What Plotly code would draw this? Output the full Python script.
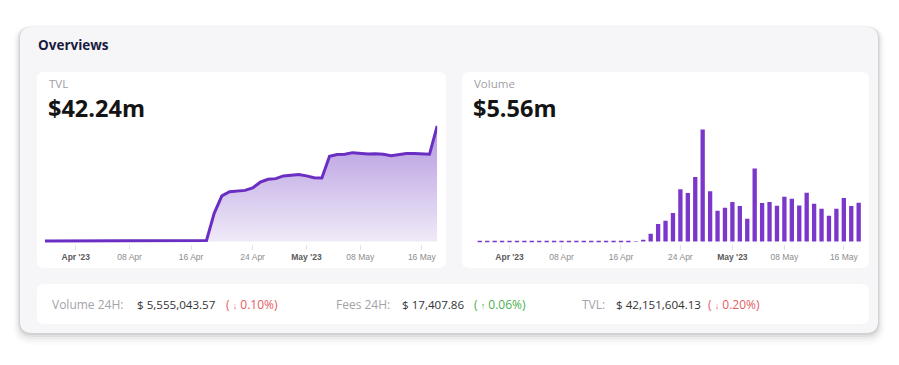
import plotly.graph_objects as go
import pandas as pd

W, H = 899, 365

# ---------------- data ----------------
dates = pd.date_range("2023-03-28", "2023-05-18", freq="D")

tvl_m = [0.15, 0.15, 0.16, 0.16, 0.17, 0.17, 0.18, 0.18, 0.19, 0.20, 0.20,
         0.21, 0.22, 0.22, 0.23, 0.24, 0.25, 0.26, 0.28, 0.30, 0.33, 0.37,
         10.3, 16.7, 18.2, 18.35, 18.7, 19.6, 21.7, 22.75, 23.0, 24.0, 24.2, 24.5,
         24.0, 23.3, 23.2, 31.2, 31.8, 31.9, 32.5, 32.2, 32.0, 32.1, 31.9, 31.4,
         31.7, 32.2, 32.2, 32.1, 31.9, 42.24]

volume_m = [0, 0, 0, 0, 0, 0, 0, 0, 0, 0, 0, 0, 0, 0, 0, 0, 0, 0, 0, 0, 0,
            0.07, 0.24, 1.10, 2.49, 2.97, 4.07, 7.47, 6.94, 9.24, 16.04, 7.18,
            4.41, 4.84, 5.64, 5.07, 3.26, 10.44, 5.50, 5.64, 5.13, 6.42, 6.13,
            5.17, 6.99, 5.41, 4.70, 3.69, 4.70, 6.22, 5.07, 5.56]

tick_dates = ["2023-04-01", "2023-04-08", "2023-04-16", "2023-04-24",
              "2023-05-01", "2023-05-08", "2023-05-16"]
tick_labels = ["Apr '23", "08 Apr", "16 Apr", "24 Apr", "May '23", "08 May", "16 May"]
month_ticks = {"Apr '23", "May '23"}

title = "Overviews"
tvl_label, tvl_value = "TVL", "$42.24m"
vol_label, vol_value = "Volume", "$5.56m"

stats = [
    ("Volume 24H:", "$ 5,555,043.57", "↓", "0.10%", "#e35d64"),
    ("Fees 24H:", "$ 17,407.86", "↑", "0.06%", "#4caf50"),
    ("TVL:", "$ 42,151,604.13", "↓", "0.20%", "#e35d64"),
]

# ---------------- helpers ----------------
def fx(x):
    return x / W

def fy(y):
    return 1 - y / H

def rrect(x0, y0, x1, y1, r):
    p = [
        (x0 + r, y0), (x1 - r, y0), ("Q", x1, y0, x1, y0 + r),
        (x1, y1 - r), ("Q", x1, y1, x1 - r, y1),
        (x0 + r, y1), ("Q", x0, y1, x0, y1 - r),
        (x0, y0 + r), ("Q", x0, y0, x0 + r, y0),
    ]
    s = f"M{fx(p[0][0]):.5f},{fy(p[0][1]):.5f}"
    for e in p[1:]:
        if e[0] == "Q":
            s += f" Q{fx(e[1]):.5f},{fy(e[2]):.5f} {fx(e[3]):.5f},{fy(e[4]):.5f}"
        else:
            s += f" L{fx(e[0]):.5f},{fy(e[1]):.5f}"
    return s + " Z"

shapes = []
# outer card shadow
for grow, dy, op in [(7, 5, 0.015), (5, 4, 0.025), (3.5, 3, 0.035), (2, 2, 0.05), (1, 1, 0.06)]:
    shapes.append(dict(type="path", xref="paper", yref="paper", layer="below",
                       path=rrect(20 - grow, 27 - grow + dy, 878 + grow, 333 + grow + dy, 12 + grow),
                       fillcolor=f"rgba(0,0,0,{op})", line=dict(width=0)))
shapes.append(dict(type="path", xref="paper", yref="paper", layer="below",
                   path=rrect(20, 27, 878, 333, 12), fillcolor="#f6f6f8", line=dict(width=0)))
for (a, b, c, d) in [(37, 72, 446, 268), (462, 72, 869, 268), (37, 284, 869, 324)]:
    shapes.append(dict(type="path", xref="paper", yref="paper", layer="below",
                       path=rrect(a, b, c, d, 7), fillcolor="#ffffff", line=dict(width=0)))

FONT = "Open Sans"
TICKFONT = "Liberation Sans"

annotations = []
def txt(x, y, text, size, color, bold=False, family=FONT):
    annotations.append(dict(xref="paper", yref="paper", x=fx(x), y=fy(y), text=(f"<b>{text}</b>" if bold else text),
                            xanchor="left", yanchor="middle", showarrow=False,
                            font=dict(family=family, size=size, color=color)))

txt(36, 45, title, 13.5, "#1b1b40", bold=True)
txt(47, 83.5, tvl_label, 11.5, "#a0a0a6")
txt(46, 108.5, tvl_value, 23.5, "#141414", bold=True)
txt(472, 83.5, vol_label, 11.5, "#a0a0a6")
txt(471, 108.5, vol_value, 23.5, "#141414", bold=True)

stat_x = [(50, 135, 224), (334, 400, 472), (580, 614, 706)]
for (lab, val, arr, pct, col), (x1, x2, x3) in zip(stats, stat_x):
    txt(x1, 304.5, lab, 12, "#a3a3aa")
    txt(x2, 304.5, val, 11.6, "#333333")
    txt(x3, 304.5, f"( <span style='font-size:9px'>{arr}</span> {pct})", 12, col)

ticktext = [f"<b><span style='color:#5a5a5a'>{t}</span></b>" if t in month_ticks else t for t in tick_labels]

fig = go.Figure()

fig.add_trace(go.Scatter(
    x=dates, y=tvl_m, mode="lines", xaxis="x", yaxis="y",
    line=dict(color="#6a2ec2", width=3),
    fill="tozeroy",
    fillgradient=dict(type="vertical", colorscale=[[0, "#efeaf8"], [1, "#b497df"]]),
    hoverinfo="skip", showlegend=False,
))

fig.add_trace(go.Bar(
    x=dates, y=volume_m, xaxis="x2", yaxis="y2",
    marker=dict(color="#7a37c9",
                line=dict(color="#7a37c9", width=[1.6 if v == 0 else 0 for v in volume_m])),
    hoverinfo="skip", showlegend=False,
))

xcommon = dict(type="date", showgrid=False, zeroline=False, showline=False,
               ticks="outside", ticklen=5, tickcolor="#e4e4e8", tickwidth=1,
               tickvals=tick_dates, ticktext=ticktext,
               tickfont=dict(family=TICKFONT, size=8.5, color="#8c8c8c"),
               fixedrange=True)

fig.update_layout(
    width=W, height=H, autosize=False,
    margin=dict(l=0, r=0, t=0, b=0),
    paper_bgcolor="#ffffff", plot_bgcolor="rgba(0,0,0,0)",
    bargap=0.42,
    xaxis=dict(domain=[fx(45), fx(437.2)], range=["2023-03-28", "2023-05-18"], anchor="y", **xcommon),
    yaxis=dict(domain=[fy(244), fy(118)], range=[-0.91, 45.17], visible=False, fixedrange=True),
    xaxis2=dict(domain=[fx(476.1), fx(862.4)], range=["2023-03-27 12:00", "2023-05-18 12:00"], anchor="y2", **xcommon),
    yaxis2=dict(domain=[fy(244), fy(120)], range=[-0.36, 17.4], visible=False, fixedrange=True),
    shapes=shapes,
    annotations=annotations,
)

fig.write_html("out.html", config={"displayModeBar": False, "staticPlot": True},
               post_script="document.body.style.margin='0';document.body.style.overflow='hidden';")
